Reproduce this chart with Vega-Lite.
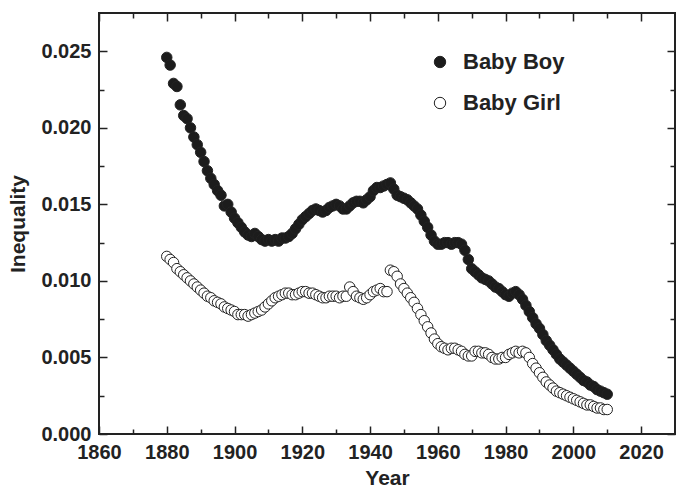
{
  "$schema": "https://vega.github.io/schema/vega-lite/v6.json",
  "width": 576,
  "height": 421,
  "autosize": "none",
  "padding": {"left": 99, "top": 13, "right": 1, "bottom": 58},
  "background": "white",
  "config": {
    "font": "Liberation Sans",
    "view": {"stroke": "#222", "strokeWidth": 2},
    "axis": {
      "domain": false,
      "grid": false,
      "tickColor": "#222",
      "tickWidth": 1.5,
      "labelFont": "Liberation Sans",
      "labelFontWeight": "bold",
      "labelFontSize": 20,
      "labelColor": "#222",
      "labelFlush": false,
      "labelOverlap": false,
      "titleFont": "Liberation Sans",
      "titleFontWeight": "bold",
      "titleFontSize": 21,
      "titleColor": "#222"
    }
  },
  "data": {
    "values": [
      {"year": 1880, "Baby Boy": 0.0246, "Baby Girl": 0.0116},
      {"year": 1881, "Baby Boy": 0.0241, "Baby Girl": 0.0114},
      {"year": 1882, "Baby Boy": 0.0229, "Baby Girl": 0.0112},
      {"year": 1883, "Baby Boy": 0.0227, "Baby Girl": 0.0108},
      {"year": 1884, "Baby Boy": 0.0215, "Baby Girl": 0.0106},
      {"year": 1885, "Baby Boy": 0.0208, "Baby Girl": 0.0104},
      {"year": 1886, "Baby Boy": 0.0206, "Baby Girl": 0.0102},
      {"year": 1887, "Baby Boy": 0.0200, "Baby Girl": 0.0100},
      {"year": 1888, "Baby Boy": 0.0194, "Baby Girl": 0.0098},
      {"year": 1889, "Baby Boy": 0.0189, "Baby Girl": 0.0096},
      {"year": 1890, "Baby Boy": 0.0184, "Baby Girl": 0.0094},
      {"year": 1891, "Baby Boy": 0.0178, "Baby Girl": 0.0092},
      {"year": 1892, "Baby Boy": 0.0172, "Baby Girl": 0.0090},
      {"year": 1893, "Baby Boy": 0.0167, "Baby Girl": 0.0089},
      {"year": 1894, "Baby Boy": 0.0163, "Baby Girl": 0.0087},
      {"year": 1895, "Baby Boy": 0.0159, "Baby Girl": 0.0086},
      {"year": 1896, "Baby Boy": 0.0156, "Baby Girl": 0.0085},
      {"year": 1897, "Baby Boy": 0.0149, "Baby Girl": 0.0083},
      {"year": 1898, "Baby Boy": 0.0150, "Baby Girl": 0.0082},
      {"year": 1899, "Baby Boy": 0.0145, "Baby Girl": 0.0081},
      {"year": 1900, "Baby Boy": 0.0141, "Baby Girl": 0.0080},
      {"year": 1901, "Baby Boy": 0.0138, "Baby Girl": 0.0078},
      {"year": 1902, "Baby Boy": 0.0135, "Baby Girl": 0.0078},
      {"year": 1903, "Baby Boy": 0.0132, "Baby Girl": 0.0078},
      {"year": 1904, "Baby Boy": 0.0130, "Baby Girl": 0.0077},
      {"year": 1905, "Baby Boy": 0.0129, "Baby Girl": 0.0078},
      {"year": 1906, "Baby Boy": 0.0131, "Baby Girl": 0.0079},
      {"year": 1907, "Baby Boy": 0.0129, "Baby Girl": 0.0080},
      {"year": 1908, "Baby Boy": 0.0127, "Baby Girl": 0.0081},
      {"year": 1909, "Baby Boy": 0.0126, "Baby Girl": 0.0083},
      {"year": 1910, "Baby Boy": 0.0127, "Baby Girl": 0.0085},
      {"year": 1911, "Baby Boy": 0.0126, "Baby Girl": 0.0087},
      {"year": 1912, "Baby Boy": 0.0127, "Baby Girl": 0.0089},
      {"year": 1913, "Baby Boy": 0.0126, "Baby Girl": 0.0090},
      {"year": 1914, "Baby Boy": 0.0128, "Baby Girl": 0.0091},
      {"year": 1915, "Baby Boy": 0.0128, "Baby Girl": 0.0092},
      {"year": 1916, "Baby Boy": 0.0129, "Baby Girl": 0.0092},
      {"year": 1917, "Baby Boy": 0.0131, "Baby Girl": 0.0091},
      {"year": 1918, "Baby Boy": 0.0134, "Baby Girl": 0.0091},
      {"year": 1919, "Baby Boy": 0.0137, "Baby Girl": 0.0092},
      {"year": 1920, "Baby Boy": 0.0140, "Baby Girl": 0.0093},
      {"year": 1921, "Baby Boy": 0.0142, "Baby Girl": 0.0093},
      {"year": 1922, "Baby Boy": 0.0144, "Baby Girl": 0.0092},
      {"year": 1923, "Baby Boy": 0.0146, "Baby Girl": 0.0092},
      {"year": 1924, "Baby Boy": 0.0147, "Baby Girl": 0.0091},
      {"year": 1925, "Baby Boy": 0.0146, "Baby Girl": 0.0090},
      {"year": 1926, "Baby Boy": 0.0145, "Baby Girl": 0.0089},
      {"year": 1927, "Baby Boy": 0.0146, "Baby Girl": 0.0089},
      {"year": 1928, "Baby Boy": 0.0148, "Baby Girl": 0.0090},
      {"year": 1929, "Baby Boy": 0.0149, "Baby Girl": 0.0090},
      {"year": 1930, "Baby Boy": 0.0150, "Baby Girl": 0.0090},
      {"year": 1931, "Baby Boy": 0.0149, "Baby Girl": 0.0089},
      {"year": 1932, "Baby Boy": 0.0147, "Baby Girl": 0.0090},
      {"year": 1933, "Baby Boy": 0.0147, "Baby Girl": 0.0090},
      {"year": 1934, "Baby Boy": 0.0149, "Baby Girl": 0.0096},
      {"year": 1935, "Baby Boy": 0.0151, "Baby Girl": 0.0093},
      {"year": 1936, "Baby Boy": 0.0152, "Baby Girl": 0.0090},
      {"year": 1937, "Baby Boy": 0.0152, "Baby Girl": 0.0089},
      {"year": 1938, "Baby Boy": 0.0151, "Baby Girl": 0.0088},
      {"year": 1939, "Baby Boy": 0.0153, "Baby Girl": 0.0089},
      {"year": 1940, "Baby Boy": 0.0155, "Baby Girl": 0.0091},
      {"year": 1941, "Baby Boy": 0.0159, "Baby Girl": 0.0093},
      {"year": 1942, "Baby Boy": 0.0161, "Baby Girl": 0.0094},
      {"year": 1943, "Baby Boy": 0.0161, "Baby Girl": 0.0095},
      {"year": 1944, "Baby Boy": 0.0162, "Baby Girl": 0.0093},
      {"year": 1945, "Baby Boy": 0.0163, "Baby Girl": 0.0093},
      {"year": 1946, "Baby Boy": 0.0164, "Baby Girl": 0.0107},
      {"year": 1947, "Baby Boy": 0.0160, "Baby Girl": 0.0106},
      {"year": 1948, "Baby Boy": 0.0156, "Baby Girl": 0.0103},
      {"year": 1949, "Baby Boy": 0.0155, "Baby Girl": 0.0098},
      {"year": 1950, "Baby Boy": 0.0154, "Baby Girl": 0.0095},
      {"year": 1951, "Baby Boy": 0.0153, "Baby Girl": 0.0092},
      {"year": 1952, "Baby Boy": 0.0151, "Baby Girl": 0.0089},
      {"year": 1953, "Baby Boy": 0.0149, "Baby Girl": 0.0086},
      {"year": 1954, "Baby Boy": 0.0147, "Baby Girl": 0.0082},
      {"year": 1955, "Baby Boy": 0.0143, "Baby Girl": 0.0078},
      {"year": 1956, "Baby Boy": 0.0139, "Baby Girl": 0.0074},
      {"year": 1957, "Baby Boy": 0.0135, "Baby Girl": 0.0070},
      {"year": 1958, "Baby Boy": 0.0130, "Baby Girl": 0.0066},
      {"year": 1959, "Baby Boy": 0.0126, "Baby Girl": 0.0062},
      {"year": 1960, "Baby Boy": 0.0124, "Baby Girl": 0.0059},
      {"year": 1961, "Baby Boy": 0.0124, "Baby Girl": 0.0057},
      {"year": 1962, "Baby Boy": 0.0125, "Baby Girl": 0.0056},
      {"year": 1963, "Baby Boy": 0.0125, "Baby Girl": 0.0055},
      {"year": 1964, "Baby Boy": 0.0124, "Baby Girl": 0.0056},
      {"year": 1965, "Baby Boy": 0.0125, "Baby Girl": 0.0056},
      {"year": 1966, "Baby Boy": 0.0125, "Baby Girl": 0.0055},
      {"year": 1967, "Baby Boy": 0.0124, "Baby Girl": 0.0054},
      {"year": 1968, "Baby Boy": 0.0120, "Baby Girl": 0.0052},
      {"year": 1969, "Baby Boy": 0.0114, "Baby Girl": 0.0051},
      {"year": 1970, "Baby Boy": 0.0108, "Baby Girl": 0.0051},
      {"year": 1971, "Baby Boy": 0.0106, "Baby Girl": 0.0054},
      {"year": 1972, "Baby Boy": 0.0104, "Baby Girl": 0.0054},
      {"year": 1973, "Baby Boy": 0.0102, "Baby Girl": 0.0053},
      {"year": 1974, "Baby Boy": 0.0101, "Baby Girl": 0.0053},
      {"year": 1975, "Baby Boy": 0.0100, "Baby Girl": 0.0052},
      {"year": 1976, "Baby Boy": 0.0098, "Baby Girl": 0.0050},
      {"year": 1977, "Baby Boy": 0.0096, "Baby Girl": 0.0049},
      {"year": 1978, "Baby Boy": 0.0095, "Baby Girl": 0.0049},
      {"year": 1979, "Baby Boy": 0.0093, "Baby Girl": 0.0050},
      {"year": 1980, "Baby Boy": 0.0091, "Baby Girl": 0.0050},
      {"year": 1981, "Baby Boy": 0.0090, "Baby Girl": 0.0052},
      {"year": 1982, "Baby Boy": 0.0092, "Baby Girl": 0.0053},
      {"year": 1983, "Baby Boy": 0.0093, "Baby Girl": 0.0054},
      {"year": 1984, "Baby Boy": 0.0091, "Baby Girl": 0.0053},
      {"year": 1985, "Baby Boy": 0.0088, "Baby Girl": 0.0054},
      {"year": 1986, "Baby Boy": 0.0084, "Baby Girl": 0.0053},
      {"year": 1987, "Baby Boy": 0.0080, "Baby Girl": 0.0050},
      {"year": 1988, "Baby Boy": 0.0076, "Baby Girl": 0.0046},
      {"year": 1989, "Baby Boy": 0.0072, "Baby Girl": 0.0043},
      {"year": 1990, "Baby Boy": 0.0069, "Baby Girl": 0.0040},
      {"year": 1991, "Baby Boy": 0.0065, "Baby Girl": 0.0037},
      {"year": 1992, "Baby Boy": 0.0061, "Baby Girl": 0.0034},
      {"year": 1993, "Baby Boy": 0.0058, "Baby Girl": 0.0032},
      {"year": 1994, "Baby Boy": 0.0055, "Baby Girl": 0.0030},
      {"year": 1995, "Baby Boy": 0.0052, "Baby Girl": 0.0028},
      {"year": 1996, "Baby Boy": 0.0049, "Baby Girl": 0.0027},
      {"year": 1997, "Baby Boy": 0.0047, "Baby Girl": 0.0026},
      {"year": 1998, "Baby Boy": 0.0045, "Baby Girl": 0.0025},
      {"year": 1999, "Baby Boy": 0.0043, "Baby Girl": 0.0024},
      {"year": 2000, "Baby Boy": 0.0041, "Baby Girl": 0.0023},
      {"year": 2001, "Baby Boy": 0.0039, "Baby Girl": 0.0022},
      {"year": 2002, "Baby Boy": 0.0037, "Baby Girl": 0.0021},
      {"year": 2003, "Baby Boy": 0.0035, "Baby Girl": 0.0020},
      {"year": 2004, "Baby Boy": 0.0034, "Baby Girl": 0.0019},
      {"year": 2005, "Baby Boy": 0.0032, "Baby Girl": 0.0019},
      {"year": 2006, "Baby Boy": 0.0031, "Baby Girl": 0.0018},
      {"year": 2007, "Baby Boy": 0.0029, "Baby Girl": 0.0017},
      {"year": 2008, "Baby Boy": 0.0028, "Baby Girl": 0.0017},
      {"year": 2009, "Baby Boy": 0.0027, "Baby Girl": 0.0016},
      {"year": 2010, "Baby Boy": 0.0026, "Baby Girl": 0.0016}
    ]
  },
  "transform": [
    {"fold": ["Baby Boy", "Baby Girl"], "as": ["series", "inequality"]}
  ],
  "layer": [
    {
      "mark": {"type": "point", "shape": "circle", "filled": true, "size": 110, "stroke": "#222", "strokeWidth": 1, "opacity": 1},
      "encoding": {
        "x": {
          "field": "year",
          "type": "quantitative",
          "scale": {"domain": [1860, 2030], "nice": false, "zero": false},
          "axis": {
            "orient": "bottom",
            "title": "Year",
            "format": "d",
            "values": [1860, 1870, 1880, 1890, 1900, 1910, 1920, 1930, 1940, 1950, 1960, 1970, 1980, 1990, 2000, 2010, 2020],
            "labelExpr": "datum.value % 20 === 0 ? datum.label : ''",
            "tickSize": {"condition": {"test": "datum.value % 20 === 0", "value": -8}, "value": -5},
            "labelPadding": 16,
            "titlePadding": 2
          }
        },
        "y": {
          "field": "inequality",
          "type": "quantitative",
          "scale": {"domain": [0, 0.0275], "nice": false},
          "axis": {
            "orient": "left",
            "title": "Inequality",
            "values": [0, 0.0025, 0.005, 0.0075, 0.01, 0.0125, 0.015, 0.0175, 0.02, 0.0225, 0.025],
            "labelExpr": "round(datum.value * 10000) % 50 === 0 ? format(datum.value, '.3f') : ''",
            "tickSize": {"condition": {"test": "round(datum.value * 10000) % 50 === 0", "value": -8}, "value": -5},
            "labelPadding": 16,
            "titlePadding": 12
          }
        },
        "fill": {
          "field": "series",
          "type": "nominal",
          "scale": {"domain": ["Baby Boy", "Baby Girl"], "range": ["#1c1c1c", "#ffffff"]},
          "legend": {
            "orient": "none",
            "legendX": 330,
            "legendY": 38,
            "title": null,
            "symbolType": "circle",
            "symbolSize": 130,
            "symbolStrokeColor": "#222",
            "symbolStrokeWidth": 1,
            "labelFont": "Liberation Sans",
            "labelFontWeight": "bold",
            "labelFontSize": 22,
            "labelColor": "#222",
            "labelOffset": 12,
            "rowPadding": 19
          }
        }
      }
    },
    {
      "mark": {"type": "point", "opacity": 0},
      "encoding": {
        "x": {
          "field": "year",
          "type": "quantitative",
          "scale": {"domain": [1860, 2030], "nice": false, "zero": false},
          "axis": {
            "orient": "top",
            "title": null,
            "labels": false,
            "values": [1860, 1870, 1880, 1890, 1900, 1910, 1920, 1930, 1940, 1950, 1960, 1970, 1980, 1990, 2000, 2010, 2020],
            "tickSize": {"condition": {"test": "datum.value % 20 === 0", "value": -8}, "value": -5}
          }
        },
        "y": {
          "field": "inequality",
          "type": "quantitative",
          "scale": {"domain": [0, 0.0275], "nice": false},
          "axis": {
            "orient": "right",
            "title": null,
            "labels": false,
            "values": [0, 0.0025, 0.005, 0.0075, 0.01, 0.0125, 0.015, 0.0175, 0.02, 0.0225, 0.025],
            "tickSize": {"condition": {"test": "round(datum.value * 10000) % 50 === 0", "value": -8}, "value": -5}
          }
        }
      }
    }
  ],
  "resolve": {"axis": {"x": "independent", "y": "independent"}}
}
